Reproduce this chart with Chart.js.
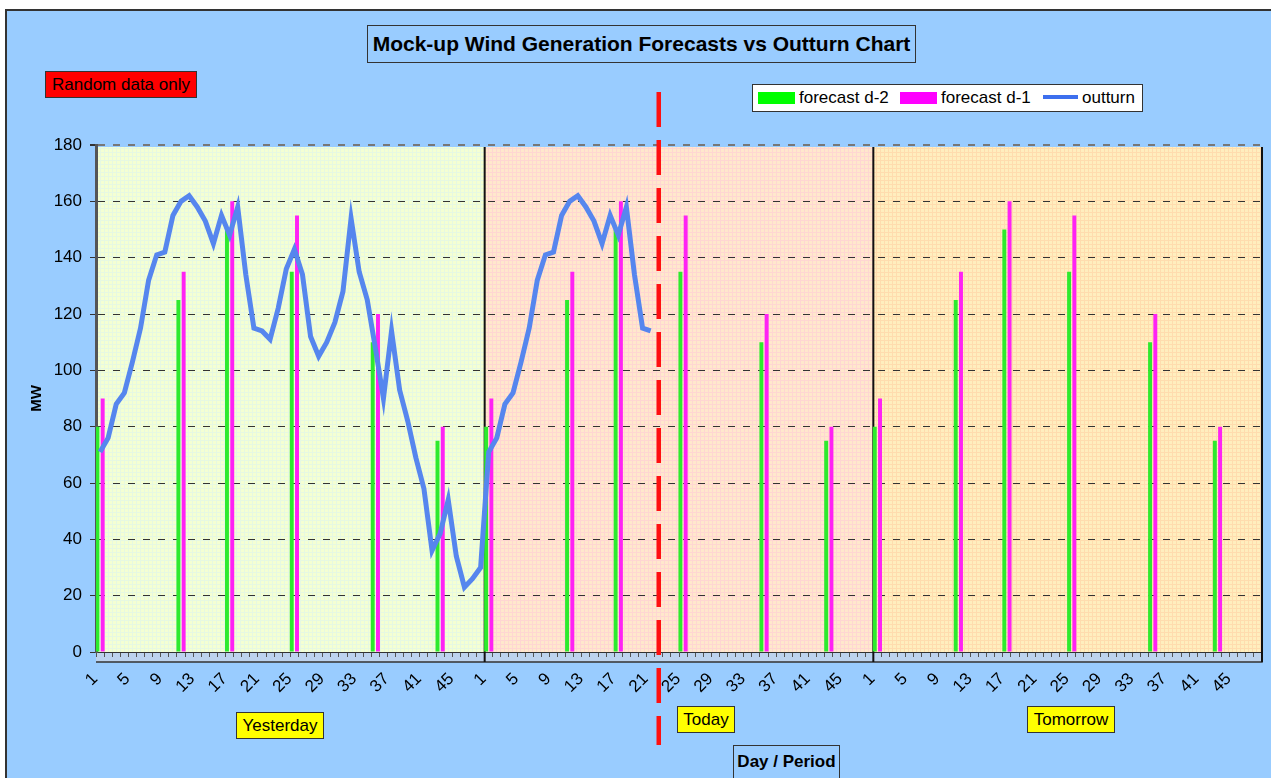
<!DOCTYPE html>
<html>
<head>
<meta charset="utf-8">
<title>Mock-up Wind Generation Forecasts vs Outturn Chart</title>
<script src="https://cdn.jsdelivr.net/npm/chart.js@4.4.1/dist/chart.umd.min.js"></script>
<style>
body { margin: 0; background: #fff; font-family: 'Liberation Sans', Arial, sans-serif; }
#wrap { position: relative; width: 1271px; height: 778px; overflow: hidden; }
#chart { position: absolute; left: 0; top: 0; }
.box { position: absolute; border: 1px solid #333; box-sizing: border-box; color: #000; white-space: nowrap; text-align: center; }
#title { left: 367px; top: 25px; width: 549px; height: 38px; background: #99ccff; font-weight: bold; font-size: 21px; line-height: 36px; }
#random { left: 45px; top: 71px; width: 152px; height: 27px; background: #ff0000; font-size: 17px; line-height: 25px; }
#legend { left: 752px; top: 84px; width: 391px; height: 28px; background: #fff; font-size: 17px; line-height: 26px; text-align: left; }
#legend span { position: absolute; }
.sw { height: 12px; top: 7px; width: 37px; }
.day { background: #ffff00; font-size: 17px; line-height: 25px; height: 27px; }
#axisx { left: 733px; top: 745px; width: 107px; height: 36px; background: #99ccff; font-weight: bold; font-size: 17px; line-height: 32px; }
</style>
</head>
<body>
<div id="wrap">
  <canvas id="chart" width="1271" height="778"></canvas>
  <div class="box" id="title">Mock-up Wind Generation Forecasts vs Outturn Chart</div>
  <div class="box" id="random">Random data only</div>
  <div class="box" id="legend">
    <span class="sw" style="left:5px;background:#00ff00"></span>
    <span style="left:46px">forecast d-2</span>
    <span class="sw" style="left:147px;background:#ff00ff"></span>
    <span style="left:188px">forecast d-1</span>
    <span style="left:290px;top:10px;width:35px;height:4px;background:#3d6fee"></span>
    <span style="left:329px">outturn</span>
  </div>
  <div class="box day" style="left:236px;top:712px;width:88px">Yesterday</div>
  <div class="box day" style="left:677px;top:706px;width:58px">Today</div>
  <div class="box day" style="left:1027px;top:706px;width:88px">Tomorrow</div>
  <div class="box" id="axisx">Day / Period</div>
</div>
<script>
// chart values
const dayNames = ["Yesterday", "Today", "Tomorrow"];
const periodsPerDay = 48;
const tickLabels = ["1", "5", "9", "13", "17", "21", "25", "29", "33", "37", "41", "45"];

// forecasts repeat at the same periods every day
const forecastPeriods = [1, 11, 17, 25, 35, 43];
const forecastD2 = [80, 125, 150, 135, 110, 75];
const forecastD1 = [90, 135, 160, 155, 120, 80];

const outturnYesterday = [71, 76, 88, 92, 103, 115, 132, 141, 142, 155, 160, 162,
    158, 153, 145, 155, 148, 158, 134, 115, 114, 111, 122, 136,
    143, 134, 112, 105, 110, 117, 128, 154, 135, 125, 108, 90,
    114, 93, 82, 69, 58, 36, 42, 54, 34, 23, 26, 30];
const outturnToday = [71, 76, 88, 92, 103, 115, 132, 141, 142, 155, 160, 162,
    158, 153, 145, 155, 148, 158, 134, 115, 114];
const nowPeriod = 22; // current period of today (red dashed marker)

const FONT = "'Liberation Sans', Arial, sans-serif";

let categories = [];
let d2 = [], d1 = [];
dayNames.forEach(function(day, d) {
    for (let p = 1; p <= periodsPerDay; p++) {
        categories.push(String(p));
        d2.push(null);
        d1.push(null);
    }
    forecastPeriods.forEach(function(p, i) {
        d2[d * periodsPerDay + p - 1] = forecastD2[i];
        d1[d * periodsPerDay + p - 1] = forecastD1[i];
    });
});
let outturn = outturnYesterday.concat(outturnToday);
while (outturn.length < categories.length) outturn.push(null);

function gridPattern(ctx, base, line) {
    let c = document.createElement("canvas");
    c.width = 4; c.height = 4;
    let g = c.getContext("2d");
    g.fillStyle = base; g.fillRect(0, 0, 4, 4);
    g.fillStyle = line; g.fillRect(0, 0, 4, 1); g.fillRect(0, 0, 1, 4);
    return ctx.createPattern(c, "repeat");
}

const dayColours = [["#f4ffd2", "#e6f8e2"], ["#ffe8cc", "#ffd6d2"], ["#ffeebe", "#ffdcae"]];

const backdrop = {
    id: "backdrop",
    beforeDraw(chart) {
        const ctx = chart.ctx, area = chart.chartArea, x = chart.scales.x;
        const step = x.getPixelForValue(1) - x.getPixelForValue(0);
        ctx.save();
        ctx.fillStyle = "#fff";
        ctx.fillRect(0, 0, chart.width, chart.height);
        ctx.fillStyle = "#99ccff";
        ctx.fillRect(5, 9, chart.width - 5, chart.height - 9);
        ctx.strokeStyle = "#333";
        ctx.lineWidth = 2;
        ctx.beginPath();
        ctx.moveTo(6, chart.height); ctx.lineTo(6, 10); ctx.lineTo(chart.width, 10);
        ctx.stroke();

        dayNames.forEach(function(day, d) {
            const x0 = x.getPixelForValue(d * periodsPerDay) - step / 2;
            const x1 = x.getPixelForValue((d + 1) * periodsPerDay - 1) + step / 2;
            ctx.fillStyle = gridPattern(ctx, dayColours[d][0], dayColours[d][1]);
            ctx.fillRect(x0, area.top + 2, x1 - x0, area.bottom - area.top - 2);
        });

        // axis floor band
        ctx.fillStyle = "#bdd3ee";
        ctx.fillRect(area.left, area.bottom, area.right - area.left, 10);
        ctx.strokeStyle = "#333";
        ctx.lineWidth = 1.5;
        ctx.beginPath();
        ctx.moveTo(area.left, area.bottom + 10); ctx.lineTo(area.right, area.bottom + 10);
        ctx.lineTo(area.right, area.bottom);
        ctx.stroke();
        ctx.restore();
    },
    beforeDatasetsDraw(chart) {
        const ctx = chart.ctx, area = chart.chartArea, x = chart.scales.x;
        const step = x.getPixelForValue(1) - x.getPixelForValue(0);
        ctx.save();
        ctx.strokeStyle = "#111";
        ctx.lineWidth = 2;
        ctx.beginPath();
        for (let d = 1; d <= dayNames.length; d++) {
            const bx = x.getPixelForValue(d * periodsPerDay - 1) + step / 2;
            ctx.moveTo(bx, area.top + 2);
            ctx.lineTo(bx, area.bottom + 10);
        }
        ctx.stroke();
        ctx.restore();
    },
    afterDraw(chart) {
        const ctx = chart.ctx, area = chart.chartArea, x = chart.scales.x;
        const px = x.getPixelForValue(periodsPerDay + nowPeriod - 1);
        ctx.save();
        ctx.strokeStyle = "#ff1010";
        ctx.lineWidth = 4.5;
        ctx.setLineDash([35, 13]);
        ctx.beginPath();
        ctx.moveTo(px, area.top - 53);
        ctx.lineTo(px, area.bottom + 93);
        ctx.stroke();
        ctx.restore();
    }
};

new Chart(document.getElementById("chart"), {
    type: "bar",
    data: {
        labels: categories,
        datasets: [
            {
                type: "line",
                label: "outturn",
                data: outturn,
                borderColor: "#5686ee",
                borderWidth: 5,
                pointRadius: 0,
                tension: 0,
                fill: false,
                order: 0
            },
            {
                label: "forecast d-2",
                data: d2,
                backgroundColor: "#2eea2e",
                categoryPercentage: 1.3,
                barPercentage: 0.75,
                order: 1
            },
            {
                label: "forecast d-1",
                data: d1,
                backgroundColor: "#ff22f4",
                categoryPercentage: 1.3,
                barPercentage: 0.75,
                order: 2
            }
        ]
    },
    options: {
        responsive: false,
        animation: false,
        layout: { padding: { left: 28, right: 9, top: 145, bottom: 0 } },
        plugins: {
            legend: { display: false },
            title: { display: false },
            tooltip: { enabled: false }
        },
        scales: {
            x: {
                grid: { drawOnChartArea: false, tickLength: 5, color: "#555" },
                border: { color: "#333", width: 1 },
                ticks: {
                    autoSkip: false,
                    minRotation: 45,
                    maxRotation: 45,
                    padding: 12,
                    labelOffset: -5,
                    color: "#000",
                    font: { family: FONT, size: 17 },
                    callback: function(v) {
                        const p = this.getLabelForValue(v);
                        return tickLabels.includes(p) ? p : "";
                    }
                },
                afterFit: function(s) {
                    s.height = 126;
                    s.paddingLeft = 0;
                    s.paddingRight = 0;
                }
            },
            y: {
                min: 0,
                max: 180,
                ticks: { stepSize: 20, color: "#000", padding: 8, font: { family: FONT, size: 17 } },
                grid: {
                    color: function(c) { return c.tick && c.tick.value === 180 ? "#777" : "#333"; },
                    lineWidth: function(c) { return c.tick && c.tick.value === 180 ? 2 : 1; },
                    tickLength: 6,
                    tickColor: "#333"
                },
                border: { dash: [7, 8], color: "#555", width: 3 },
                title: {
                    display: true,
                    text: "MW",
                    color: "#000",
                    padding: 0,
                    font: { family: FONT, size: 15, weight: "bold" }
                },
                afterFit: function(s) { s.width = 68; }
            }
        }
    },
    plugins: [backdrop]
});
</script>
</body>
</html>
